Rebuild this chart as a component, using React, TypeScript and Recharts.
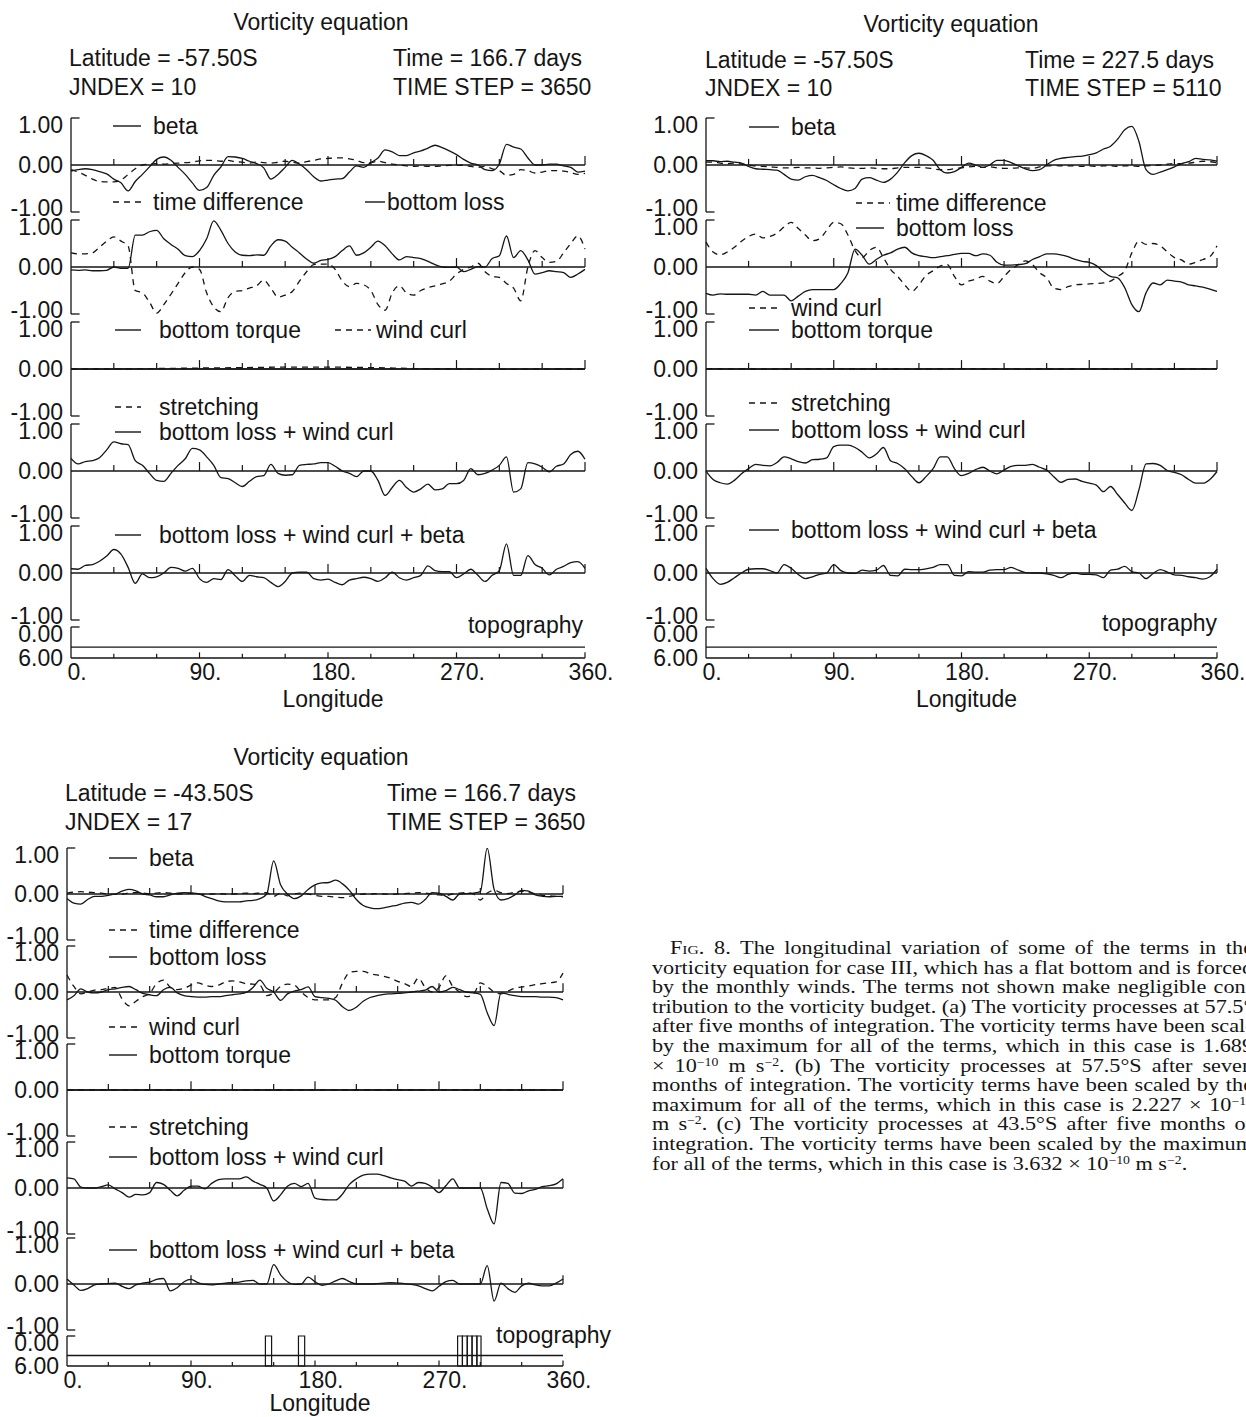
import React from "react";
import { LineChart, Line, XAxis, YAxis, ReferenceLine, ReferenceArea } from "recharts";

const INK = "#151515";
const SANS = '"Liberation Sans", Arial, Helvetica, sans-serif';
const SERIF = '"Liberation Serif", "Times New Roman", serif';

// longitude grid (degrees east) shared by all vorticity terms
const LON = [
  0, 5, 10, 15, 20, 25, 30, 35, 40, 45, 50, 55,
  60, 65, 70, 75, 80, 85, 90, 95, 100, 105, 110, 115,
  120, 125, 130, 135, 140, 145, 150, 155, 160, 165, 170, 175,
  180, 185, 190, 195, 200, 205, 210, 215, 220, 225, 230, 235,
  240, 245, 250, 255, 260, 265, 270, 275, 280, 285, 290, 295,
  300, 305, 310, 315, 320, 325, 330, 335, 340, 345, 350, 355,
  360,
];
const LON30 = [0, 30, 60, 90, 120, 150, 180, 210, 240, 270, 300, 330, 360];
const LON_TICKS = [30, 60, 90, 120, 150, 180, 210, 240, 270, 300, 330, 360];
const LON_LABELS = [0, 90, 180, 270, 360];

// (a) 57.5S, day 166.7
const betaA = [
  -0.13, -0.1, -0.08, -0.1, -0.14, -0.19, -0.3, -0.38, -0.55, -0.35, -0.2, -0.04,
  0.12, 0.17, 0.1, -0.05, -0.2, -0.38, -0.54, -0.48, -0.22, -0.04, 0.18, 0.17,
  0.14, 0.08, 0.03, -0.06, -0.3, -0.2, -0.05, 0.1, 0.02, -0.1, -0.25, -0.34,
  -0.32, -0.3, -0.29, -0.15, -0.02, -0.05, 0.05, 0.15, 0.32, 0.28, 0.2, 0.2,
  0.26, 0.3, 0.36, 0.42, 0.37, 0.3, 0.22, 0.12, 0.04, 0, -0.1, -0.12,
  0.02, 0.44, 0.38, 0.34, 0.15, 0, 0, 0.02, 0.02, -0.02, -0.05, -0.15,
  -0.13,
];
const timeDiffA = [
  -0.1, -0.15, -0.22, -0.3, -0.35, -0.36, -0.36, -0.32, -0.2, -0.08, 0, 0.02,
  0.03, 0.02, 0.03, 0.04, 0.05, 0.06, 0.09, 0.1, 0.1, 0.08, 0.1, 0.07,
  0.06, 0.04, 0.06, 0.05, 0.04, 0.06, 0.08, 0.06, 0.04, 0.07, 0.1, 0.13,
  0.14, 0.15, 0.15, 0.13, 0.1, 0.05, 0.05, 0.08, 0.05, 0.02, 0, -0.02,
  -0.03, -0.02, -0.03, -0.03, -0.02, -0.01, -0.01, 0, -0.03, -0.05, -0.03, -0.08,
  -0.12, -0.22, -0.2, -0.1, -0.12, -0.17, -0.15, -0.12, -0.12, -0.13, -0.16, -0.2,
  -0.18,
];
const bottomLossA = [
  -0.06, -0.07, -0.06, -0.08, -0.08, -0.07, 0, -0.03, -0.03, 0.68, 0.68, 0.75,
  0.78, 0.6, 0.48, 0.38, 0.24, 0.22, 0.35, 0.6, 0.98, 0.78, 0.5, 0.32,
  0.25, 0.24, 0.26, 0.25, 0.45, 0.58, 0.55, 0.42, 0.3, 0.17, 0.08, 0.14,
  0.16, 0.22, 0.35, 0.45, 0.25, 0.3, 0.42, 0.55, 0.45, 0.28, 0.15, 0.22,
  0.2, 0.18, 0.12, 0.05, 0, -0.01, 0, -0.1, -0.05, 0.01, 0, 0.18,
  0.24, 0.66, 0.2, 0.35, 0.15, -0.15, -0.12, -0.08, -0.1, -0.12, -0.22, -0.15,
  -0.05,
];
const windCurlA = [
  0.3, 0.28, 0.28, 0.3, 0.42, 0.55, 0.64, 0.55, 0.45, -0.5, -0.55, -0.75,
  -0.98, -0.8, -0.58, -0.35, -0.12, 0, -0.05, -0.55, -0.85, -0.95, -0.65, -0.52,
  -0.5, -0.45, -0.4, -0.28, -0.45, -0.64, -0.6, -0.52, -0.3, -0.1, 0.05, 0.06,
  0.06, -0.05, -0.3, -0.42, -0.35, -0.38, -0.5, -0.8, -0.92, -0.55, -0.4, -0.55,
  -0.6, -0.5, -0.44, -0.4, -0.36, -0.3, -0.15, -0.05, 0, 0.08, -0.1, -0.2,
  -0.22, -0.35, -0.45, -0.72, 0, 0.35, 0.2, 0.1, 0.12, 0.3, 0.5, 0.66,
  0.38,
];
const lossCurlA = [
  0.27, 0.15, 0.2, 0.22, 0.28, 0.45, 0.62, 0.58, 0.56, 0.22, 0.12, -0.05,
  -0.2, -0.22, -0.05, 0.12, 0.26, 0.48, 0.45, 0.3, 0.12, -0.14, -0.16, -0.25,
  -0.33, -0.22, -0.12, -0.1, 0.14, -0.05, -0.09, -0.08, 0.12, 0.14, 0.15, 0.18,
  0.18, 0.1, 0, -0.05, -0.12, 0, 0, -0.2, -0.52, -0.35, -0.2, -0.35,
  -0.45, -0.38, -0.28, -0.4, -0.38, -0.27, -0.27, -0.2, 0.05, -0.08, -0.05, 0.02,
  0.12, 0.3, -0.45, -0.38, 0.18, 0.15, 0.08, -0.02, 0.1, 0.15, 0.35, 0.42,
  0.25,
];
const lossCurlBetaA = [
  0.09, 0.08, 0.16, 0.18, 0.25, 0.36, 0.5, 0.4, 0.12, -0.22, -0.02, -0.1,
  -0.08, 0, 0.12, 0.1, 0.04, 0.1, -0.12, -0.2, -0.12, -0.14, 0.07, -0.06,
  -0.18, -0.05, -0.08, -0.1, -0.2, -0.29, -0.18, 0, 0.02, 0.02, -0.12, -0.15,
  -0.13, -0.2, -0.25, -0.15, -0.12, -0.09, -0.12, -0.18, -0.1, 0.02, -0.1, -0.15,
  -0.1, -0.05, 0.15, 0.05, 0.03, 0.03, -0.1, -0.02, 0.08, -0.05, -0.18, -0.05,
  0.05, 0.62, -0.05, -0.05, 0.37, 0.18, 0.1, -0.04, 0.08, 0.14, 0.22, 0.24,
  0.1,
];
const torqueA = [0, 0, 0, 0, 0, 0, 0, 0, 0, 0, 0, 0, 0];
const stretchA = [0, 0, 0.01, 0.02, 0.03, 0.04, 0.04, 0.03, 0.01, 0, -0.01, 0, 0];

// (b) 57.5S, day 227.5
const betaB = [
  0.09, 0.09, 0.07, 0.08, 0.06, 0.04, -0.03, -0.08, -0.09, -0.1, -0.11, -0.2,
  -0.3, -0.32, -0.25, -0.22, -0.27, -0.33, -0.42, -0.5, -0.55, -0.5, -0.3, -0.27,
  -0.32, -0.37, -0.3, -0.15, 0.05, 0.2, 0.25, 0.2, 0.1, -0.1, -0.17, -0.14,
  -0.05, 0.04, 0, -0.05, 0, 0.1, 0.1, 0.05, -0.02, -0.08, -0.12, -0.1,
  0, 0.1, 0.14, 0.16, 0.18, 0.19, 0.22, 0.26, 0.34, 0.4, 0.55, 0.75,
  0.82, 0.5, -0.1, -0.2, -0.15, -0.1, -0.04, 0.03, 0.07, 0.14, 0.12, 0.11,
  0.08,
];
const timeDiffB = [
  0.06, 0.06, 0.04, 0.03, 0.04, 0.02, 0, -0.02, -0.03, -0.04, -0.05, -0.06,
  -0.06, -0.05, -0.06, -0.06, -0.07, -0.06, -0.05, -0.04, -0.06, -0.07, -0.07, -0.06,
  -0.07, -0.08, -0.08, -0.06, -0.05, -0.05, -0.05, -0.06, -0.08, -0.1, -0.1, -0.08,
  -0.06, -0.04, -0.03, -0.05, -0.04, -0.06, -0.07, -0.07, -0.06, -0.06, -0.07, -0.04,
  -0.02, -0.01, -0.02, -0.02, -0.02, -0.03, -0.02, -0.03, -0.02, -0.02, -0.03, -0.02,
  -0.02, -0.03, -0.02, -0.01, 0, 0.02, 0.03, 0.03, 0.04, 0.06, 0.08, 0.07,
  0.05,
];
const bottomLossB = [
  -0.56, -0.6, -0.57, -0.58, -0.58, -0.58, -0.58, -0.6, -0.52, -0.6, -0.6, -0.6,
  -0.72, -0.62, -0.52, -0.48, -0.48, -0.48, -0.48, -0.35, -0.12, 0.38, 0.25, 0.06,
  0.16, 0.25, 0.3, 0.38, 0.42, 0.3, 0.24, 0.22, 0.2, 0.22, 0.24, 0.27,
  0.29, 0.29, 0.24, 0.28, 0.25, 0.1, 0.04, 0.04, 0.05, 0.07, 0.16, 0.22,
  0.28, 0.28, 0.26, 0.22, 0.16, 0.12, 0.1, 0.03, -0.1, -0.2, -0.23, -0.44,
  -0.8, -0.95, -0.55, -0.34, -0.38, -0.28, -0.3, -0.32, -0.38, -0.4, -0.43, -0.47,
  -0.52,
];
const windCurlB = [
  0.53, 0.32, 0.26, 0.32, 0.42, 0.55, 0.65, 0.7, 0.62, 0.65, 0.72, 0.85,
  0.95, 0.82, 0.68, 0.56, 0.6, 0.78, 0.95, 0.92, 0.68, 0.35, 0.2, 0.35,
  0.42, 0.2, -0.05, -0.2, -0.38, -0.52, -0.38, -0.18, -0.08, 0.02, 0.05, -0.2,
  -0.38, -0.3, -0.26, -0.2, -0.3, -0.35, -0.2, -0.05, 0.05, 0.13, 0.05, -0.12,
  -0.23, -0.45, -0.48, -0.42, -0.38, -0.37, -0.36, -0.35, -0.34, -0.3, -0.2, -0.08,
  0.3, 0.55, 0.48, 0.5, 0.45, 0.32, 0.2, 0.15, 0.06, 0.1, 0.16, 0.22,
  0.45,
];
const lossCurlB = [
  0, -0.18, -0.25, -0.28, -0.2, -0.06, 0.05, 0.14, 0.12, 0.11, 0.18, 0.3,
  0.26, 0.2, 0.17, 0.24, 0.25, 0.28, 0.52, 0.55, 0.55, 0.5, 0.4, 0.28,
  0.36, 0.5, 0.22, 0.16, 0.05, -0.12, -0.25, -0.12, 0.05, 0.3, 0.3, 0.05,
  -0.1, -0.05, 0.03, 0.08, 0, -0.06, 0.02, 0.1, 0.12, 0.12, 0.14, 0.08,
  0.02, -0.12, -0.24, -0.18, -0.17, -0.22, -0.26, -0.3, -0.44, -0.33, -0.5, -0.68,
  -0.84, -0.4, 0.15, 0.16, 0.12, 0.01, -0.03, -0.08, -0.18, -0.26, -0.26, -0.18,
  -0.01,
];
const lossCurlBetaB = [
  0.1, -0.12, -0.24, -0.2, -0.1, 0, 0.08, 0.09, 0.09, 0.05, 0, 0.18,
  0.1, -0.03, -0.12, -0.08, -0.03, 0, 0.18, 0.05, 0, -0.01, 0.06, 0.04,
  0.06, 0.16, -0.05, -0.06, 0.08, 0.07, 0.07, 0.09, 0.12, 0.18, 0.18, -0.05,
  -0.06, 0.03, 0.02, 0.02, 0.06, 0.07, 0.07, 0.12, 0.06, 0.01, 0, 0,
  -0.02, -0.05, -0.1, -0.03, 0, -0.03, -0.03, -0.04, -0.1, 0.06, 0.08, 0.14,
  0.03, 0, -0.12, -0.01, 0.07, 0.02, -0.04, -0.05, -0.08, -0.1, -0.13, -0.08,
  0.08,
];
const torqueB = [0, 0, 0, 0, 0, 0, 0, 0, 0, 0, 0, 0, 0];
const stretchB = [0.01, 0, 0, 0.01, 0, 0, 0.01, 0, 0, 0, 0, 0, 0.01];

// (c) 43.5S, day 166.7
const betaC = [
  -0.1, -0.2, -0.22, -0.12, -0.05, -0.05, -0.03, 0, 0.06, 0.1, 0.07, 0,
  -0.02, -0.06, -0.06, -0.02, 0.02, 0.03, 0.02, 0.01, -0.05, -0.1, -0.15, -0.17,
  -0.17, -0.17, -0.15, -0.14, -0.1, 0, 0.72, 0.2, 0, -0.1, -0.04, 0.1,
  0.2, 0.24, 0.25, 0.3, 0.22, 0.08, -0.12, -0.25, -0.3, -0.32, -0.3, -0.27,
  -0.24, -0.2, -0.18, -0.22, -0.12, 0.03, 0.02, -0.05, -0.13, 0, 0.01, 0.02,
  0.05, 1.0, 0.1, -0.13, -0.1, -0.02, 0.08, 0.06, -0.02, -0.05, -0.06, -0.05,
  -0.05,
];
const timeDiffC = [
  0.02, 0.04, 0.05, 0.04, 0.03, 0.02, 0, -0.01, 0, 0.02, 0.03, 0.02,
  0, 0.02, 0.03, 0.02, 0, 0.01, 0.02, 0, -0.01, 0, 0.01, 0,
  0, 0.01, 0.02, 0.01, 0.02, 0.03, -0.05, 0.02, -0.04, 0, 0.02, 0,
  -0.03, -0.05, -0.05, -0.07, -0.08, -0.05, -0.02, 0, 0, 0.01, 0, -0.01,
  0, 0.01, 0.02, 0.03, 0.02, 0, -0.02, -0.03, 0, 0.02, 0.03, 0,
  -0.13, 0.02, 0.08, 0.03, 0.01, 0.04, 0.06, 0.04, 0, -0.03, -0.04, -0.05,
  -0.06,
];
const bottomLossC = [
  -0.17, -0.08, 0.07, 0, -0.02, 0, 0.05, 0.07, 0.1, 0.12, 0.05, -0.03,
  -0.06, -0.08, 0.05, 0.1, -0.02, -0.08, -0.1, -0.11, -0.11, -0.1, -0.1, -0.08,
  -0.06, -0.04, -0.01, 0.1, 0.26, 0.08, 0, -0.18, -0.04, 0.02, 0.05, 0.11,
  -0.1, -0.12, -0.14, -0.18, -0.32, -0.4, -0.33, -0.2, -0.12, -0.08, -0.05, -0.04,
  -0.03, -0.02, 0, 0.02, 0.04, 0.12, 0, 0.03, 0.1, 0.05, 0, -0.02,
  -0.05, -0.45, -0.73, -0.02, -0.05, -0.08, -0.1, -0.1, -0.1, -0.11, -0.11, -0.12,
  -0.17,
];
const windCurlC = [
  0.37, 0.12, -0.04, 0, 0.04, 0.05, 0.08, 0.1, -0.15, -0.3, -0.2, -0.1,
  -0.03, 0.18, 0.26, 0.1, 0.05, 0.08, 0.15, 0.2, 0.15, 0.12, 0.15, 0.22,
  0.24, 0.22, 0.18, 0.17, 0.15, -0.08, -0.02, 0.12, 0.17, 0.15, 0, -0.12,
  -0.17, -0.17, -0.17, -0.12, 0.2, 0.42, 0.45, 0.45, 0.4, 0.37, 0.34, 0.3,
  0.23, 0.18, 0.12, 0.3, 0.1, 0, 0.1, 0.35, 0.12, 0, -0.1, -0.05,
  0.2, 0.12, 0, -0.04, 0.02, 0.08, 0.11, 0.13, 0.16, 0.18, 0.2, 0.22,
  0.41,
];
const lossCurlC = [
  0.22, 0.2, 0.02, 0, 0, 0.03, 0.07, -0.02, -0.1, -0.2, -0.14, -0.15,
  -0.1, 0.12, 0.08, -0.05, -0.17, -0.05, 0.04, 0.04, -0.02, 0.1, 0.18, 0.2,
  0.2, 0.2, 0.24, 0.15, 0.08, 0, -0.28, -0.15, 0.04, 0.1, 0.03, 0.1,
  -0.22, -0.25, -0.26, -0.26, -0.13, 0.08, 0.2, 0.28, 0.3, 0.3, 0.27, 0.22,
  0.18, 0.15, 0.04, 0.12, 0.1, 0.02, -0.1, 0.05, 0.2, 0, 0, 0,
  0, -0.45, -0.78, 0.12, 0.1, -0.11, -0.12, -0.06, -0.03, 0.03, 0.05, 0.09,
  0.2,
];
const lossCurlBetaC = [
  0.11, -0.02, -0.14, -0.1, -0.02, 0, 0.01, 0.02, -0.05, -0.1, -0.02, 0.02,
  0.04, 0.1, 0.12, -0.15, -0.08, 0.05, 0.1, 0.03, -0.01, -0.02, 0, 0.02,
  0.03, 0.04, 0.07, 0.08, 0, 0, 0.42, 0.2, 0.05, -0.01, 0, 0.15,
  0.05, -0.03, 0, 0.07, 0.12, 0.05, 0, 0, 0, 0.01, 0.02, 0.03,
  0.02, 0.01, -0.01, -0.04, -0.1, -0.15, -0.05, 0.05, 0.08, 0, 0, 0,
  0, 0.4, -0.37, 0.02, -0.1, -0.18, -0.04, 0.02, -0.02, -0.04, -0.04, 0.02,
  0.11,
];
const torqueC = [0, 0, 0, 0, 0, 0, 0, 0, 0, 0, 0, 0, 0];
const stretchC = [0, 0, 0, 0, 0, 0, 0, 0, 0, 0, 0, 0, 0];

// bottom depth (km): flat bottom, with ridge cells in case (c)
const TOPO_LON = [0, 360];
const TOPO_DEPTH = [3.9, 3.9];
const ridgesC: [number, number][] = [
  [144, 148.5], [168, 172.5],
  [283.5, 287], [287, 290.5], [290.5, 294], [294, 297.5], [297.5, 300.5],
];

type Row = { [k: string]: number };

const buildRows = (beta: number[], timeDiff: number[], loss: number[], curl: number[], lossCurl: number[], lossCurlBeta: number[]): Row[] =>
  LON.map((lon, i) => ({
    lon,
    beta: beta[i],
    timeDiff: timeDiff[i],
    loss: loss[i],
    curl: curl[i],
    lossCurl: lossCurl[i],
    lossCurlBeta: lossCurlBeta[i],
  }));

const buildFlat = (torque: number[], stretch: number[]): Row[] =>
  LON30.map((lon, i) => ({ lon, torque: torque[i], stretch: stretch[i] }));

const topoRows: Row[] = TOPO_LON.map((lon, i) => ({ lon, depth: TOPO_DEPTH[i] }));

interface Key { x: number; y: number; len: number; gap: number; dashed?: boolean; label: string }

interface PanelDef {
  x0: number; x1: number; zeros: number[]; half: number;
  topoTop: number; topoBottom: number; lonLabelY: number;
  titleX: number; titleY: number; leftX: number; rightX: number; row1: number; row2: number;
  latitude: string; jndex: string; time: string; step: string;
  keys: Key[];
  topoLabel: { x: number; y: number; right?: boolean };
  rows: Row[]; flat: Row[]; ridges: [number, number][];
}

const panels: PanelDef[] = [
  {
    x0: 71, x1: 585, zeros: [165, 267, 369, 471, 573], half: 47,
    topoTop: 627, topoBottom: 658, lonLabelY: 699,
    titleX: 321, titleY: 22, leftX: 69, rightX: 393, row1: 58, row2: 87,
    latitude: "Latitude = -57.50S", jndex: "JNDEX = 10", time: "Time = 166.7 days", step: "TIME STEP = 3650",
    keys: [
      { x: 113, y: 126, len: 28, gap: 12, label: "beta" },
      { x: 113, y: 202, len: 28, gap: 12, dashed: true, label: "time difference" },
      { x: 365, y: 202, len: 20, gap: 2, label: "bottom loss" },
      { x: 115, y: 330, len: 26, gap: 18, label: "bottom torque" },
      { x: 335, y: 330, len: 36, gap: 5, dashed: true, label: "wind curl" },
      { x: 115, y: 407, len: 26, gap: 18, dashed: true, label: "stretching" },
      { x: 115, y: 432, len: 26, gap: 18, label: "bottom loss + wind curl" },
      { x: 115, y: 535, len: 26, gap: 18, label: "bottom loss + wind curl + beta" },
    ],
    topoLabel: { x: 583, y: 625, right: true },
    rows: buildRows(betaA, timeDiffA, bottomLossA, windCurlA, lossCurlA, lossCurlBetaA),
    flat: buildFlat(torqueA, stretchA),
    ridges: [],
  },
  {
    x0: 706, x1: 1217, zeros: [165, 267, 369, 471, 573], half: 47,
    topoTop: 627, topoBottom: 658, lonLabelY: 699,
    titleX: 951, titleY: 24, leftX: 705, rightX: 1025, row1: 60, row2: 88,
    latitude: "Latitude = -57.50S", jndex: "JNDEX = 10", time: "Time = 227.5 days", step: "TIME STEP = 5110",
    keys: [
      { x: 749, y: 127, len: 30, gap: 12, label: "beta" },
      { x: 856, y: 203, len: 34, gap: 6, dashed: true, label: "time difference" },
      { x: 856, y: 228, len: 28, gap: 12, label: "bottom loss" },
      { x: 749, y: 308, len: 30, gap: 12, dashed: true, label: "wind curl" },
      { x: 749, y: 330, len: 30, gap: 12, label: "bottom torque" },
      { x: 749, y: 403, len: 30, gap: 12, dashed: true, label: "stretching" },
      { x: 749, y: 430, len: 30, gap: 12, label: "bottom loss + wind curl" },
      { x: 749, y: 530, len: 30, gap: 12, label: "bottom loss + wind curl + beta" },
    ],
    topoLabel: { x: 1217, y: 623, right: true },
    rows: buildRows(betaB, timeDiffB, bottomLossB, windCurlB, lossCurlB, lossCurlBetaB),
    flat: buildFlat(torqueB, stretchB),
    ridges: [],
  },
  {
    x0: 67, x1: 563, zeros: [894, 992, 1090, 1188, 1284], half: 46,
    topoTop: 1336, topoBottom: 1366, lonLabelY: 1403,
    titleX: 321, titleY: 757, leftX: 65, rightX: 387, row1: 793, row2: 822,
    latitude: "Latitude = -43.50S", jndex: "JNDEX = 17", time: "Time = 166.7 days", step: "TIME STEP = 3650",
    keys: [
      { x: 109, y: 858, len: 28, gap: 12, label: "beta" },
      { x: 109, y: 930, len: 28, gap: 12, dashed: true, label: "time difference" },
      { x: 109, y: 957, len: 28, gap: 12, label: "bottom loss" },
      { x: 109, y: 1027, len: 28, gap: 12, dashed: true, label: "wind curl" },
      { x: 109, y: 1055, len: 28, gap: 12, label: "bottom torque" },
      { x: 109, y: 1127, len: 28, gap: 12, dashed: true, label: "stretching" },
      { x: 109, y: 1157, len: 28, gap: 12, label: "bottom loss + wind curl" },
      { x: 109, y: 1250, len: 28, gap: 12, label: "bottom loss + wind curl + beta" },
    ],
    topoLabel: { x: 496, y: 1335 },
    rows: buildRows(betaC, timeDiffC, bottomLossC, windCurlC, lossCurlC, lossCurlBetaC),
    flat: buildFlat(torqueC, stretchC),
    ridges: ridgesC,
  },
];

type Series = { key: string; dashed?: boolean };
const STRIPS: { flat?: boolean; series: Series[] }[] = [
  { series: [{ key: "beta" }, { key: "timeDiff", dashed: true }] },
  { series: [{ key: "loss" }, { key: "curl", dashed: true }] },
  { flat: true, series: [{ key: "torque" }, { key: "stretch", dashed: true }] },
  { series: [{ key: "lossCurl" }] },
  { series: [{ key: "lossCurlBeta" }] },
];

const AXIS_W = 72;
const PAD = 12;
const PAD_R = 6;
const FONT = 23;
const LINE_W = 1.3;

const tickText = { fill: INK, fontSize: FONT, fontFamily: SANS };

// scaled-term axis labels sit a little inside the bracket ends
const termTick = (props: any) => {
  const { x, y, payload } = props;
  const v = Number(payload.value);
  const off = v === 1 ? 7 : v === -1 ? -4 : 0;
  return (
    <text x={x} y={y + off} textAnchor="end" dominantBaseline="central" {...tickText}>
      {v.toFixed(2)}
    </text>
  );
};

function Strip({ p, rows, zero, series }: { p: PanelDef; rows: Row[]; zero: number; series: Series[] }) {
  const plotW = p.x1 - p.x0;
  return (
    <div style={{ position: "absolute", left: p.x0 - AXIS_W, top: zero - p.half - PAD }}>
      <LineChart
        width={plotW + AXIS_W + PAD_R}
        height={2 * p.half + 2 * PAD}
        data={rows}
        margin={{ top: PAD, right: PAD_R, bottom: PAD, left: 0 }}
      >
        <XAxis type="number" dataKey="lon" domain={[0, 360]} hide />
        <YAxis
          type="number"
          domain={[-1, 1]}
          allowDataOverflow
          ticks={[-1, 0, 1]}
          interval={0}
          width={AXIS_W}
          tickLine={false}
          axisLine={{ stroke: INK, strokeWidth: 1.3 }}
          tick={termTick}
        />
        <ReferenceLine y={0} stroke={INK} strokeWidth={1.5} />
        {LON_TICKS.map((t) => (
          <ReferenceLine
            key={t}
            segment={[{ x: t, y: 0 }, { x: t, y: t % 90 === 0 ? 0.19 : 0.13 }]}
            stroke={INK}
            strokeWidth={1.2}
          />
        ))}
        <ReferenceLine segment={[{ x: 0, y: 1 }, { x: 6, y: 1 }]} stroke={INK} strokeWidth={1.3} />
        <ReferenceLine segment={[{ x: 0, y: -1 }, { x: 6, y: -1 }]} stroke={INK} strokeWidth={1.3} />
        {series.map((s) => (
          <Line
            key={s.key}
            dataKey={s.key}
            type="monotone"
            stroke={INK}
            strokeWidth={LINE_W}
            strokeDasharray={s.dashed ? "6 5" : undefined}
            dot={false}
            isAnimationActive={false}
          />
        ))}
      </LineChart>
    </div>
  );
}

const topoTick = (props: any) => {
  const { x, y, payload } = props;
  return (
    <text x={x} y={y + (payload.value === 0 ? 7 : 0)} textAnchor="end" dominantBaseline="central" {...tickText}>
      {Number(payload.value).toFixed(2)}
    </text>
  );
};

const lonTick = (props: any) => {
  const { x, y, payload } = props;
  return (
    <text x={x + 6} y={y} dy="0.62em" textAnchor="middle" {...tickText}>
      {`${payload.value}.`}
    </text>
  );
};

function Topography({ p }: { p: PanelDef }) {
  const plotW = p.x1 - p.x0;
  const h = p.topoBottom - p.topoTop;
  const xAxisH = 40;
  const padR = 40;
  return (
    <div style={{ position: "absolute", left: p.x0 - AXIS_W, top: p.topoTop - PAD }}>
      <LineChart
        width={plotW + AXIS_W + padR}
        height={h + PAD + xAxisH}
        data={topoRows}
        margin={{ top: PAD, right: padR, bottom: 0, left: 0 }}
      >
        <XAxis
          type="number"
          dataKey="lon"
          domain={[0, 360]}
          ticks={LON_LABELS}
          interval={0}
          height={xAxisH}
          tickLine={false}
          axisLine={{ stroke: INK, strokeWidth: 1.5 }}
          tick={lonTick}
        />
        <YAxis
          type="number"
          domain={[0, 6]}
          reversed
          allowDataOverflow
          ticks={[0, 6]}
          interval={0}
          width={AXIS_W}
          tickLine={false}
          axisLine={{ stroke: INK, strokeWidth: 1.3 }}
          tick={topoTick}
        />
        <ReferenceLine segment={[{ x: 0, y: 0 }, { x: 6, y: 0 }]} stroke={INK} strokeWidth={1.3} />
        {LON_TICKS.map((t) => (
          <ReferenceLine
            key={t}
            segment={[{ x: t, y: 6 }, { x: t, y: t % 90 === 0 ? 4.9 : 5.2 }]}
            stroke={INK}
            strokeWidth={1.2}
          />
        ))}
        {p.ridges.map(([a, b]) => (
          <ReferenceArea key={a} x1={a} x2={b} y1={0} y2={6} fill="none" fillOpacity={0} stroke={INK} strokeWidth={1.2} />
        ))}
        <Line dataKey="depth" type="linear" stroke={INK} strokeWidth={1.4} dot={false} isAnimationActive={false} />
      </LineChart>
    </div>
  );
}

const textStyle: React.CSSProperties = {
  position: "absolute",
  fontFamily: SANS,
  fontSize: FONT,
  color: INK,
  lineHeight: "28px",
  whiteSpace: "nowrap",
};

function KeyEntry({ k }: { k: Key }) {
  return (
    <div style={{ ...textStyle, left: k.x, top: k.y - 14, height: 28, display: "flex", alignItems: "center" }}>
      <svg width={k.len} height={4} style={{ marginRight: k.gap, flex: "none" }}>
        <line x1={0} y1={2} x2={k.len} y2={2} stroke={INK} strokeWidth={1.4} strokeDasharray={k.dashed ? "6 5" : undefined} />
      </svg>
      <span>{k.label}</span>
    </div>
  );
}

function Panel({ p }: { p: PanelDef }) {
  return (
    <>
      <div style={{ ...textStyle, left: p.titleX - 150, width: 300, textAlign: "center", top: p.titleY - 14 }}>
        Vorticity equation
      </div>
      <div style={{ ...textStyle, left: p.leftX, top: p.row1 - 14 }}>{p.latitude}</div>
      <div style={{ ...textStyle, left: p.leftX, top: p.row2 - 14 }}>{p.jndex}</div>
      <div style={{ ...textStyle, left: p.rightX, top: p.row1 - 14 }}>{p.time}</div>
      <div style={{ ...textStyle, left: p.rightX, top: p.row2 - 14 }}>{p.step}</div>
      {STRIPS.map((s, i) => (
        <Strip key={i} p={p} rows={s.flat ? p.flat : p.rows} zero={p.zeros[i]} series={s.series} />
      ))}
      <Topography p={p} />
      {p.keys.map((k) => (
        <KeyEntry key={`${k.label}-${k.y}`} k={k} />
      ))}
      <div
        style={
          p.topoLabel.right
            ? { ...textStyle, right: 1246 - p.topoLabel.x, top: p.topoLabel.y - 14 }
            : { ...textStyle, left: p.topoLabel.x, top: p.topoLabel.y - 14 }
        }
      >
        topography
      </div>
      <div style={{ ...textStyle, left: (p.x0 + p.x1) / 2 - 100 + 5, width: 200, textAlign: "center", top: p.lonLabelY - 14 }}>
        Longitude
      </div>
    </>
  );
}

const sup = (s: string) => <sup style={{ fontSize: "0.62em", lineHeight: 0, verticalAlign: "0.55em" }}>{s}</sup>;

const CAPTION: React.ReactNode[] = [
  <>
    <span style={{ fontVariant: "small-caps" }}>Fig</span>. 8. The longitudinal variation of some of the terms in the
  </>,
  <>vorticity equation for case III, which has a flat bottom and is forced</>,
  <>by the monthly winds. The terms not shown make negligible con-</>,
  <>tribution to the vorticity budget. (a) The vorticity processes at 57.5°S</>,
  <>after five months of integration. The vorticity terms have been scaled</>,
  <>by the maximum for all of the terms, which in this case is 1.689</>,
  <>
    × 10{sup("−10")} m s{sup("−2")}. (b) The vorticity processes at 57.5°S after seven
  </>,
  <>months of integration. The vorticity terms have been scaled by the</>,
  <>
    maximum for all of the terms, which in this case is 2.227 × 10{sup("−10")}
  </>,
  <>
    m s{sup("−2")}. (c) The vorticity processes at 43.5°S after five months of
  </>,
  <>integration. The vorticity terms have been scaled by the maximum</>,
  <>
    for all of the terms, which in this case is 3.632 × 10{sup("−10")} m s{sup("−2")}.
  </>,
];

const CAP_STRETCH = 1.2;

function Caption() {
  return (
    <>
      {CAPTION.map((line, i) => {
        const last = i === CAPTION.length - 1;
        const left = i === 0 ? 670 : 652;
        return (
          <div
            key={i}
            style={{
              position: "absolute",
              left,
              top: 948 + i * 19.6 - 11,
              width: last ? undefined : (1253 - left) / CAP_STRETCH,
              transform: `scaleX(${CAP_STRETCH})`,
              transformOrigin: "0 50%",
              fontFamily: SERIF,
              fontSize: 18.5,
              lineHeight: "22px",
              color: INK,
              whiteSpace: "nowrap",
              textAlign: last ? "left" : "justify",
              textAlignLast: last ? "left" : "justify",
            }}
          >
            {line}
          </div>
        );
      })}
    </>
  );
}

export default function App() {
  return (
    <div
      style={{
        position: "absolute",
        left: 0,
        top: 0,
        width: 1246,
        height: 1417,
        overflow: "hidden",
        background: "#fff",
      }}
    >
      {panels.map((p, i) => (
        <Panel key={i} p={p} />
      ))}
      <Caption />
    </div>
  );
}
